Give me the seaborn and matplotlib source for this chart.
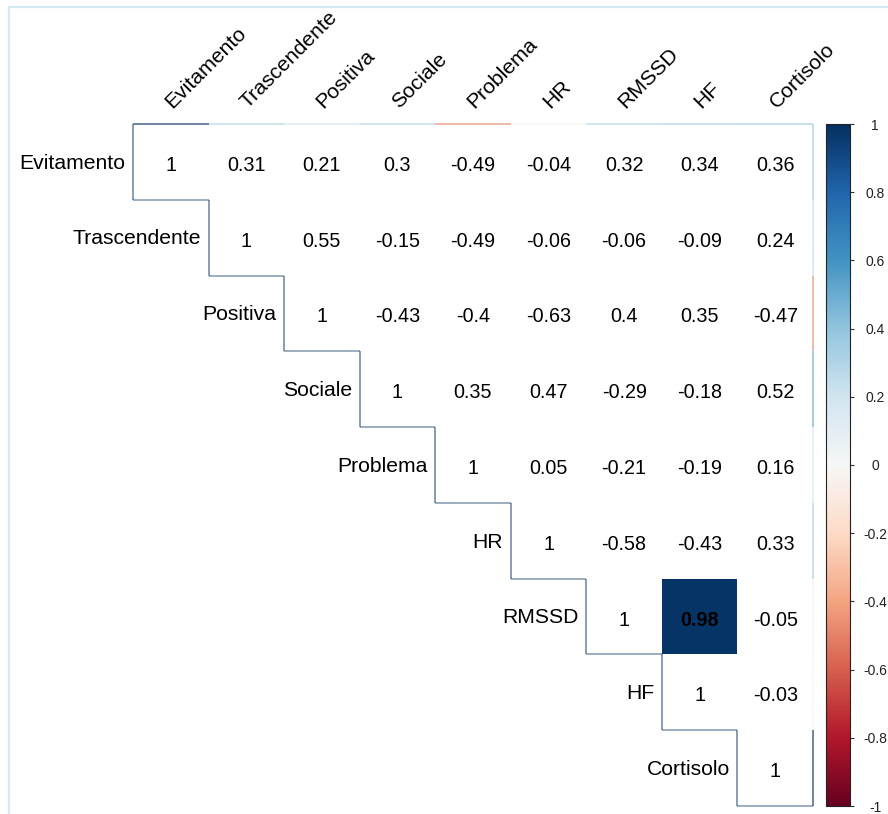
import numpy as np
import pandas as pd
import matplotlib
matplotlib.use("Agg")
import matplotlib.pyplot as plt
from matplotlib.lines import Line2D
from matplotlib.colors import Normalize
import seaborn as sns

# Variables of the correlation matrix
variables = ["Evitamento", "Trascendente", "Positiva", "Sociale", "Problema",
             "HR", "RMSSD", "HF", "Cortisolo"]

# Upper-triangle correlations, one list per row (starting at the diagonal)
r_evitamento = [1, 0.31, 0.21, 0.3, -0.49, -0.04, 0.32, 0.34, 0.36]
r_trascendente = [1, 0.55, -0.15, -0.49, -0.06, -0.06, -0.09, 0.24]
r_positiva = [1, -0.43, -0.4, -0.63, 0.4, 0.35, -0.47]
r_sociale = [1, 0.35, 0.47, -0.29, -0.18, 0.52]
r_problema = [1, 0.05, -0.21, -0.19, 0.16]
r_hr = [1, -0.58, -0.43, 0.33]
r_rmssd = [1, 0.98, -0.05]
r_hf = [1, -0.03]
r_cortisolo = [1]

# Pairs that pass the significance threshold (coloured cells)
significant_pairs = [("RMSSD", "HF")]

# Colour bar ticks
cbar_ticks = [1, 0.8, 0.6, 0.4, 0.2, 0, -0.2, -0.4, -0.6, -0.8, -1]

rows = [r_evitamento, r_trascendente, r_positiva, r_sociale, r_problema,
        r_hr, r_rmssd, r_hf, r_cortisolo]
n = len(variables)
corr = np.full((n, n), np.nan)
for i, row in enumerate(rows):
    for k, v in enumerate(row):
        corr[i, i + k] = v
        corr[i + k, i] = v
df = pd.DataFrame(corr, index=variables, columns=variables)

# Only significant upper-triangle cells get a fill colour
mask = np.ones((n, n), dtype=bool)
for a, b in significant_pairs:
    i, j = variables.index(a), variables.index(b)
    mask[min(i, j), max(i, j)] = False

sns.set_style("white")
plt.rcParams["font.family"] = ["Liberation Sans", "DejaVu Sans"]

W, H = 888, 814
fig = plt.figure(figsize=(W / 100, H / 100), dpi=100)
gx0, gx1, gy0, gy1 = 133, 813, 124, 806
ax = fig.add_axes([gx0 / W, 1 - gy1 / H, (gx1 - gx0) / W, (gy1 - gy0) / H])
cax = fig.add_axes([826 / W, 1 - gy1 / H, 24 / W, (gy1 - gy0) / H])

cmap = plt.get_cmap("RdBu")
norm = Normalize(vmin=-1, vmax=1)

sns.heatmap(df, mask=mask, cmap=cmap, vmin=-1, vmax=1, ax=ax, cbar_ax=cax,
            xticklabels=False, yticklabels=False, linewidths=0)
ax.set_xlim(0, n)
ax.set_ylim(n, 0)
for s in ax.spines.values():
    s.set_visible(False)
ax.tick_params(left=False, bottom=False)

# Numbers in the upper triangle
for i in range(n):
    for j in range(i, n):
        v = corr[i, j]
        bold = not mask[i, j] and i != j
        ax.text(j + 0.5, i + 0.52, f"{v:g}", ha="center", va="center_baseline",
                fontsize=14.2, color="black",
                fontweight="bold" if bold else "normal")

# Row labels to the left of the diagonal
for i, name in enumerate(variables):
    ax.text(i - 0.1, i + 0.49, name, ha="right", va="center_baseline",
            fontsize=15.2, color="black")

# Column labels above the grid, rotated
for j, name in enumerate(variables):
    ax.text(j + 0.52, -0.2, name, ha="left", va="baseline", rotation=45,
            rotation_mode="anchor", fontsize=15.2, color="black")

# Outline of the triangle, edges tinted by their cell value
lw, al = 1.1, 0.75
for j in range(n):
    ax.plot([j, j + 1], [0, 0], color=cmap(norm(corr[0, j])), lw=lw,
            alpha=al, clip_on=False, solid_capstyle="butt")
for i in range(n):
    ax.plot([n, n], [i, i + 1], color=cmap(norm(corr[i, n - 1])), lw=lw,
            alpha=al, clip_on=False, solid_capstyle="butt")
for i in range(n):
    ax.plot([i, i], [i, i + 1], color=cmap(norm(corr[i, i])), lw=lw,
            alpha=0.6, clip_on=False, solid_capstyle="butt")
    ax.plot([i, i + 1], [i + 1, i + 1], color=cmap(norm(corr[i, i])), lw=lw,
            alpha=0.5, clip_on=False, solid_capstyle="butt")

# Colour bar
cb = ax.collections[0].colorbar
cb.outline.set_linewidth(0.8)
cb.outline.set_edgecolor("#222222")
cb.set_ticks(cbar_ticks)
cb.set_ticklabels([f"{t:g}" for t in cbar_ticks])
cax.tick_params(axis="y", length=3, width=0.8, color="#333333", pad=15,
                labelsize=10, labelcolor="#222222", right=True, left=False)
for lbl in cax.get_yticklabels():
    lbl.set_horizontalalignment("center")

# Light page frame
frame_c = "#d3ecf4"
fig.add_artist(Line2D([9 / W, 1], [1 - 7 / H, 1 - 7 / H], color=frame_c, lw=1.6))
fig.add_artist(Line2D([9 / W, 9 / W], [0, 1 - 7 / H], color=frame_c, lw=1.6))

fig.savefig("out.png", dpi=100)
